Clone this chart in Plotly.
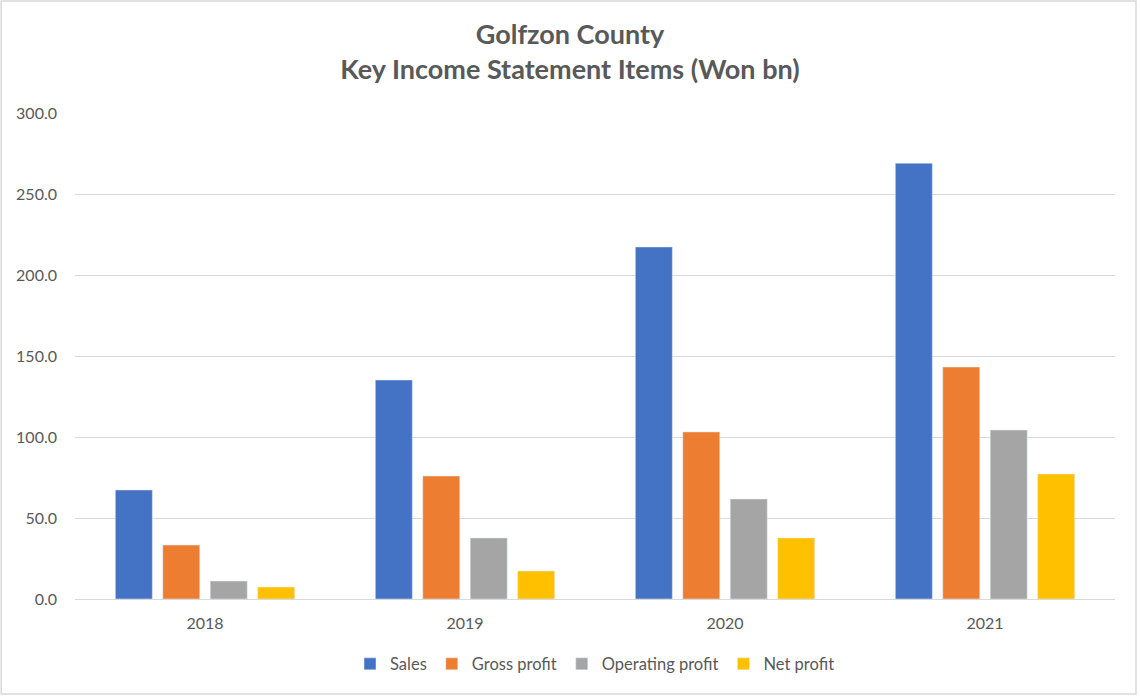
import plotly.graph_objects as go

years = ["2018", "2019", "2020", "2021"]
sales = [67.3, 135.2, 217.3, 269.0]
gross_profit = [33.3, 75.9, 103.1, 143.2]
operating_profit = [11.1, 37.7, 61.7, 104.3]
net_profit = [7.4, 17.3, 37.7, 77.2]

series = [
    ("Sales", sales, "#4472C4"),
    ("Gross profit", gross_profit, "#ED7D31"),
    ("Operating profit", operating_profit, "#A5A5A5"),
    ("Net profit", net_profit, "#FFC000"),
]

fig = go.Figure()
for name, vals, col in series:
    fig.add_trace(go.Bar(x=years, y=vals, name=name, marker_color=col))

fig.update_layout(
    width=1140, height=696,
    paper_bgcolor="white", plot_bgcolor="white",
    font=dict(family="Lato, Open Sans, sans-serif", size=16, color="#595959"),
    title=dict(
        text="<b>Golfzon County<br>Key Income Statement Items (Won bn)</b>",
        x=0.5, xanchor="center", y=0.937,
        font=dict(size=27, color="#595959"),
    ),
    barmode="group", bargap=0.27, bargroupgap=0.22,
    margin=dict(l=75, r=25, t=113, b=97),
    legend=dict(orientation="h", x=0.5, xanchor="center", y=-0.134, yanchor="middle",
                font=dict(size=16.5, color="#595959"), itemwidth=30),
    showlegend=True,
)
fig.update_xaxes(showgrid=False, showline=True, linecolor="#D9D9D9", linewidth=1,
                 ticks="", ticklabelstandoff=10, tickfont=dict(size=16, color="#595959"))
fig.update_yaxes(range=[0, 300], dtick=50, tickformat=".1f", showgrid=True,
                 gridcolor="#D9D9D9", zeroline=False, ticks="", ticklabelstandoff=17,
                 tickfont=dict(size=16, color="#595959"))

# chart border
fig.add_shape(type="rect", xref="paper", yref="paper",
              x0=-0.071, x1=1.0202, y0=-0.1955, y1=1.2305,
              line=dict(color="#D9D9D9", width=1.5))

fig.write_html("out.html", config={"displayModeBar": False},
               post_script="document.body.style.margin='0';")
